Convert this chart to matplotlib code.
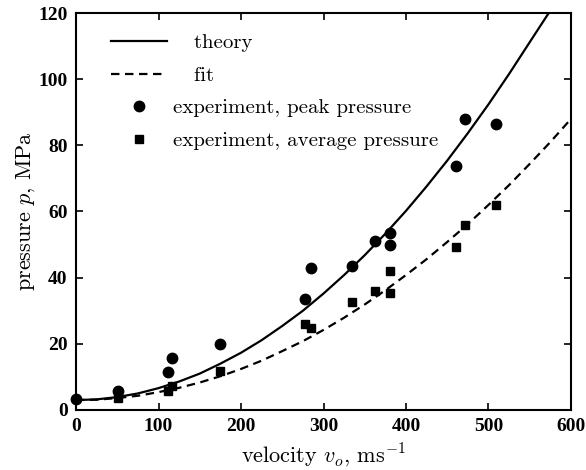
import matplotlib
matplotlib.use("Agg")
import matplotlib.pyplot as plt

plt.rcParams["mathtext.fontset"] = "cm"

# experiment, peak pressure
peak_v = [0, 51, 111, 116, 174, 277, 285, 335, 362, 381, 381, 461, 471, 509]
peak_p = [3.2, 5.8, 11.6, 15.8, 19.9, 33.6, 42.9, 43.5, 51.1, 53.5, 50.0, 73.9, 88.1, 86.6]

# experiment, average pressure
avg_v = [51, 111, 116, 174, 277, 285, 335, 362, 381, 381, 461, 471, 509]
avg_p = [3.7, 5.8, 7.3, 11.8, 26.0, 24.8, 32.7, 35.9, 41.9, 35.4, 49.2, 56.0, 62.1]

# theory curve
theory_v = [0, 25, 50, 75, 100, 125, 150, 175, 200, 225, 250, 275, 300, 325, 350,
            375, 400, 425, 450, 475, 500, 525, 550, 573]
theory_p = [3.0, 3.2, 3.9, 5.0, 6.6, 8.6, 11.0, 14.0, 17.3, 21.1, 25.4, 30.0, 35.2,
            40.8, 46.8, 53.3, 60.2, 67.6, 75.4, 83.7, 92.4, 101.6, 111.2, 120.0]

# fit curve
fit_v = [0, 25, 50, 75, 100, 125, 150, 175, 200, 225, 250, 275, 300, 325, 350,
         375, 400, 425, 450, 475, 500, 525, 550, 575, 600]
fit_p = [3.0, 3.1, 3.6, 4.3, 5.4, 6.7, 8.3, 10.2, 12.4, 14.9, 17.8, 20.8, 24.2,
         27.9, 31.9, 36.2, 40.8, 45.6, 50.8, 56.2, 62.0, 68.0, 74.4, 81.0, 88.0]

fig = plt.figure(figsize=(5.86, 4.70), dpi=100)
ax = fig.add_axes([0.1297, 0.1277, 0.8447, 0.8446])

ax.plot(theory_v, theory_p, color="black", lw=1.6, label="   theory")
ax.plot(fit_v, fit_p, color="black", lw=1.6, linestyle=(0, (3.8, 2.5)), label="   fit")
ax.plot(peak_v, peak_p, "o", color="black", markersize=7.5, clip_on=False,
        label="experiment, peak pressure")
ax.plot(avg_v, avg_p, "s", color="black", markersize=6, clip_on=False,
        label="experiment, average pressure")

ax.set_xlim(0, 600)
ax.set_ylim(0, 120)
ax.set_xticks(range(0, 601, 100))
ax.set_yticks(range(0, 121, 20))
ax.tick_params(direction="in", length=5, width=1.2, top=True, right=True, pad=6)
for lab in ax.get_xticklabels() + ax.get_yticklabels():
    lab.set_family("Liberation Serif")
    lab.set_fontweight("bold")
    lab.set_fontsize(14)
for s in ax.spines.values():
    s.set_linewidth(1.5)

ax.set_xlabel(r"velocity $v_o$, ms$^{-1}$", family="cmr10", fontsize=16, labelpad=4)
ax.set_ylabel(r"pressure $p$, MPa", family="cmr10", fontsize=16, labelpad=1)

ax.legend(loc="upper left", bbox_to_anchor=(0.033, 0.995), frameon=False,
          handlelength=2.7, handletextpad=0.25, labelspacing=0.67,
          prop={"family": "cmr10", "size": 15})

fig.savefig("out.png", dpi=100)
